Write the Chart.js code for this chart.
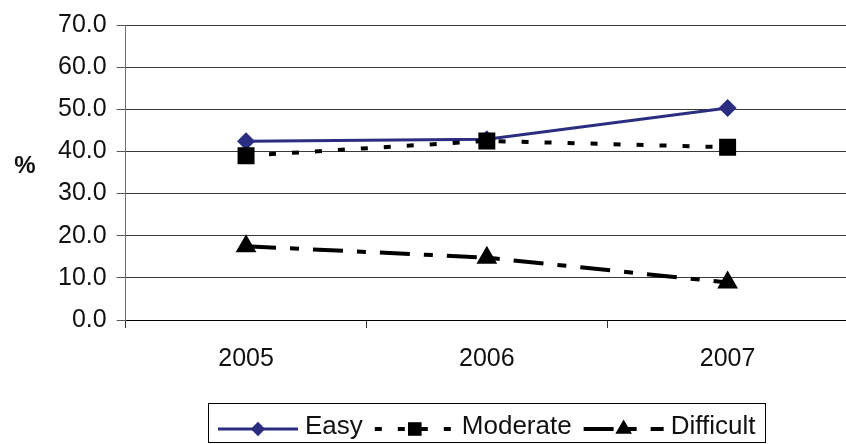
<!DOCTYPE html>
<html>
<head>
<meta charset="utf-8">
<script src="https://cdn.jsdelivr.net/npm/chart.js@4.4.1/dist/chart.umd.min.js"></script>
<style>
  html, body { margin: 0; padding: 0; background: #fff; overflow: hidden; }
  #wrap { position: relative; width: 860px; height: 444px; }
</style>
</head>
<body>
<div id="wrap"><canvas id="c" width="860" height="444"></canvas></div>
<script>
// Survey results by year (percent)
const years = ['2005', '2006', '2007'];
const easy = [42.4, 42.9, 50.3];
const moderate = [39.0, 42.5, 41.0];
const difficult = [17.5, 14.8, 8.9];
const yTicks = [0, 10, 20, 30, 40, 50, 60, 70];
const seriesNames = ['Easy', 'Moderate', 'Difficult'];

const FONT = '"Liberation Sans", Arial, sans-serif';
const NAVY = '#2B2E80';

function marker(ctx, style, x, y, r, color) {
  ctx.save();
  ctx.setLineDash([]);
  ctx.fillStyle = color;
  ctx.beginPath();
  if (style === 'rectRot') {
    ctx.moveTo(x, y - r); ctx.lineTo(x + r, y); ctx.lineTo(x, y + r); ctx.lineTo(x - r, y);
  } else if (style === 'rect') {
    const s = r * Math.SQRT1_2;
    ctx.rect(x - s, y - s, 2 * s, 2 * s);
  } else if (style === 'triangle') {
    const h = r * 1.5, w = r * Math.sqrt(3) / 2;
    ctx.moveTo(x, y - h * 2 / 3); ctx.lineTo(x + w, y + h / 3); ctx.lineTo(x - w, y + h / 3);
  }
  ctx.closePath();
  ctx.fill();
  ctx.restore();
}

// Axis caption "%" and the boxed legend under the plot
const decorations = {
  id: 'decorations',
  afterDraw(chart) {
    const ctx = chart.ctx;
    const area = chart.chartArea;
    ctx.save();
    ctx.fillStyle = '#111';
    ctx.font = 'bold 24px ' + FONT;
    ctx.textAlign = 'center';
    ctx.textBaseline = 'middle';
    ctx.fillText('%', 25, 166);

    ctx.font = '26px ' + FONT;
    const sample = 80, gapText = 7, gapItem = 12, pad = 10;
    const ds = chart.data.datasets;
    const widths = ds.map(d => ctx.measureText(d.label).width);
    let total = pad * 2;
    widths.forEach((w, i) => { total += sample + gapText + w + (i < ds.length - 1 ? gapItem : 0); });
    const cx = (area.left + area.right) / 2;
    const top = 403, bottom = 443;
    let x = Math.round(cx - total / 2);
    ctx.strokeStyle = '#000';
    ctx.lineWidth = 1;
    ctx.setLineDash([]);
    ctx.strokeRect(x + 0.5, top + 0.5, Math.round(total), bottom - top - 1);
    x += pad;
    const ly = 429;
    ds.forEach((d, i) => {
      ctx.save();
      ctx.strokeStyle = d.borderColor;
      ctx.lineWidth = d.borderWidth;
      ctx.setLineDash(d.borderDash || []);
      ctx.beginPath();
      ctx.moveTo(x, ly);
      ctx.lineTo(x + sample, ly);
      ctx.stroke();
      ctx.restore();
      marker(ctx, d.pointStyle, x + sample / 2, ly, d.pointRadius * 0.8, d.pointBackgroundColor);
      x += sample + gapText;
      ctx.fillStyle = '#111';
      ctx.textAlign = 'left';
      ctx.textBaseline = 'middle';
      ctx.fillText(d.label, x, 427);
      x += widths[i] + gapItem;
    });
    ctx.restore();
  }
};

new Chart(document.getElementById('c'), {
  type: 'line',
  data: {
    labels: years,
    datasets: [
      {
        label: seriesNames[0], data: easy, order: 2,
        borderColor: NAVY, borderWidth: 3, borderDash: [],
        pointStyle: 'rectRot', pointRadius: 9,
        pointBackgroundColor: NAVY, pointBorderColor: NAVY, pointBorderWidth: 0
      },
      {
        label: seriesNames[1], data: moderate, order: 1,
        borderColor: '#000', borderWidth: 4, borderDash: [7, 16],
        pointStyle: 'rect', pointRadius: 12,
        pointBackgroundColor: '#000', pointBorderColor: '#000', pointBorderWidth: 0
      },
      {
        label: seriesNames[2], data: difficult, order: 0,
        borderColor: '#000', borderWidth: 4, borderDash: [30, 14, 9, 14],
        pointStyle: 'triangle', pointRadius: 12,
        pointBackgroundColor: '#000', pointBorderColor: '#000', pointBorderWidth: 0
      }
    ]
  },
  options: {
    responsive: false,
    animation: false,
    devicePixelRatio: 1,
    layout: { padding: { left: 48, right: 4, top: 24, bottom: 54 } },
    plugins: { legend: { display: false }, tooltip: { enabled: false } },
    elements: { line: { tension: 0, fill: false } },
    scales: {
      x: {
        offset: true,
        grid: { display: true, drawOnChartArea: false, offset: true, tickLength: 8, tickColor: '#333', lineWidth: 1 },
        border: { display: true, color: '#000', width: 1 },
        ticks: { color: '#111', font: { family: FONT, size: 25 }, padding: 16, maxRotation: 0 }
      },
      y: {
        min: 0, max: 70,
        afterBuildTicks(scale) { scale.ticks = yTicks.map(v => ({ value: v })); },
        grid: { color: '#3a3a3a', lineWidth: 1, tickLength: 9, tickColor: '#555' },
        border: { display: true, color: '#707070', width: 1 },
        ticks: {
          color: '#111', font: { family: FONT, size: 25 }, padding: 10,
          callback: v => Number(v).toFixed(1)
        }
      }
    }
  },
  plugins: [decorations]
});
</script>
</body>
</html>
